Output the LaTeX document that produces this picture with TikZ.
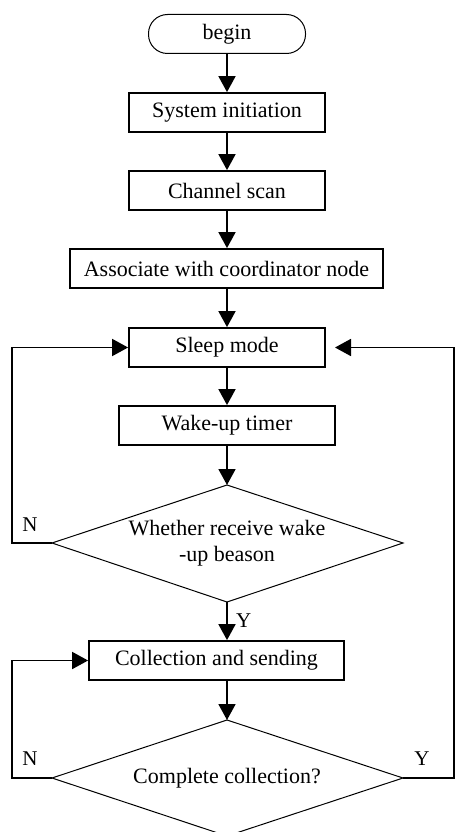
\documentclass[tikz,border=0pt]{standalone}
\usepackage{fontspec}
\setmainfont{Liberation Serif}
\usetikzlibrary{arrows.meta,calc}
\begin{document}
\begin{tikzpicture}[x=1pt,y=-1pt,
  txt/.style={font=\fontsize{22}{26}\selectfont},
  box/.style={draw, line width=1.8pt, minimum height=39pt, inner sep=0pt, txt},
  term/.style={draw, line width=1pt, rounded corners=19pt, minimum width=157pt, minimum height=39pt, inner sep=0pt, txt},
  flow/.style={line width=1.8pt, -{Triangle[length=16pt,width=17pt]}},
  dia/.style={line width=1pt},
  lbl/.style={font=\fontsize{21}{24}\selectfont, inner sep=0pt}]
\useasboundingbox (0,0) rectangle (455,832);
\node[term] (begin) at (227,34) {begin};
\node[box, minimum width=196pt] (init) at (227,112.5) {System initiation};
\node[box, minimum width=196pt] (scan) at (227,190.5) {Channel scan};
\node[box, minimum width=313pt] (assoc) at (226.5,268.5) {Associate with coordinator node};
\node[box, minimum width=196pt] (sleep) at (227,347.5) {Sleep mode};
\node[box, minimum width=216pt] (wake) at (227,425.5) {Wake-up timer};
% diamond 1
\coordinate (d1t) at (227,485);
\coordinate (d1r) at (403,543);
\coordinate (d1b) at (227,602);
\coordinate (d1l) at (52,543);
\draw[dia] (d1t) -- (d1r) -- (d1b) -- (d1l) -- cycle;
\node[txt, align=center, inner sep=0pt] (q1) at (227,543) {Whether receive wake\\-up beason};
\node[box, minimum width=255pt] (coll) at (216.5,660.5) {Collection and sending};
% diamond 2
\coordinate (d2t) at (227,720);
\coordinate (d2r) at (403,778);
\coordinate (d2b) at (227,836);
\coordinate (d2l) at (52,778);
\draw[dia] (d2t) -- (d2r) -- (d2b) -- (d2l) -- cycle;
\node[txt, inner sep=0pt] (q2) at (227,778) {Complete collection?};
% connectors
\draw[flow] (begin) -- (init);
\draw[flow] (init) -- (scan);
\draw[flow] (scan.south) -- (scan.south |- assoc.north);
\draw[flow] (assoc.south -| sleep.north) -- (sleep);
\draw[flow] (sleep) -- (wake);
\draw[flow] (wake) -- (d1t);
\draw[flow] (d1b) -- (coll.north -| d1b);
\node[lbl, anchor=west] (y1) at (236,621) {Y};
\draw[flow] (coll.south -| d2t) -- (d2t);
\coordinate (l1) at (12,543);
\draw[flow] (d1l) -- (l1) |- (sleep.west);
\node[lbl] (n1) at (30,525) {N};
\coordinate (l2) at (12,778);
\draw[flow] (d2l) -- (l2) |- (coll.west);
\node[lbl] (n2) at (30,759) {N};
\coordinate (r2) at (454,778);
\coordinate (ret) at (335,347.5);
\draw[flow] (d2r) -- (r2) |- (ret);
\node[lbl] (y2) at (422,759) {Y};
\end{tikzpicture}
\end{document}
